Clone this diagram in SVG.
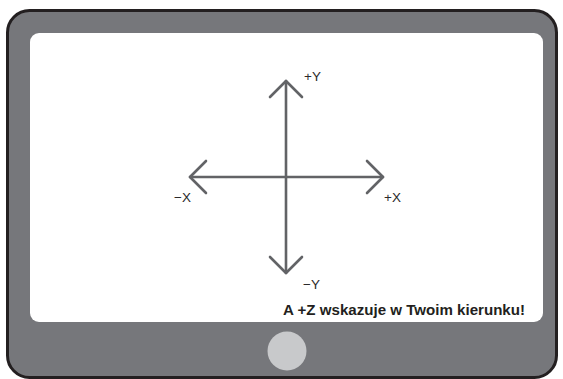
<svg xmlns="http://www.w3.org/2000/svg" width="563" height="379" viewBox="0 0 563 379">
<style>
.axis{stroke:#626366;stroke-width:2.6;fill:none;stroke-linecap:round;stroke-linejoin:round}
.lbl{font-family:"Liberation Sans",Arial,sans-serif;font-size:13.5px;fill:#2b2a2b}
.note{font-family:"Liberation Sans",Arial,sans-serif;font-size:15.5px;font-weight:bold;fill:#231f20}
</style>
<g id="tablet">
<rect x="7.5" y="10.5" width="549" height="367" rx="22" fill="#76777b" stroke="#231f20" stroke-width="3"/>
<rect x="30" y="33" width="513" height="289" rx="9" fill="#ffffff"/>
<circle cx="287" cy="351" r="19.5" fill="#c8c9cb"/>
</g>
<g id="axes">
<line class="axis" x1="286" y1="81" x2="286" y2="273"/>
<line class="axis" x1="190" y1="177" x2="383" y2="177"/>
<polyline class="axis" points="270,97 286,81 302,97"/>
<polyline class="axis" points="270,257 286,273 302,257"/>
<polyline class="axis" points="206,161 190,177 206,193"/>
<polyline class="axis" points="367,161 383,177 367,193"/>
</g>
<g id="labels">
<text class="lbl" x="304" y="81">+Y</text>
<text class="lbl" x="303" y="289">−Y</text>
<text class="lbl" x="174" y="202">−X</text>
<text class="lbl" x="384" y="202">+X</text>
<text class="note" x="283" y="315" textLength="242" lengthAdjust="spacingAndGlyphs">A +Z wskazuje w Twoim kierunku!</text>
</g>
</svg>
